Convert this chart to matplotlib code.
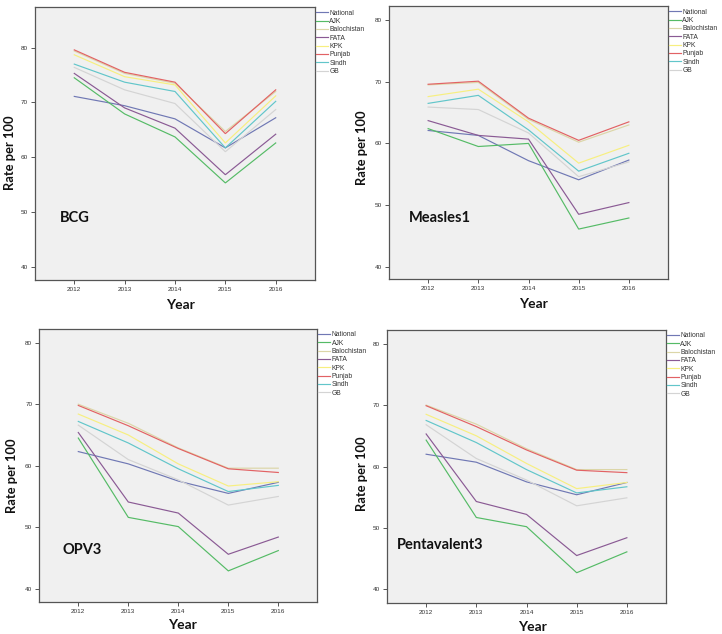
import matplotlib
matplotlib.use("Agg")
import matplotlib.pyplot as plt

years = [2012, 2013, 2014, 2015, 2016]
regions = ["National", "AJK", "Balochistan", "FATA", "KPK", "Punjab", "Sindh", "GB"]
colors = ["#7078b4", "#55bb66", "#dcd6a8", "#8a5a94", "#f7ef80", "#e26264", "#62c6ca", "#d4d4d4"]
yticks = [40, 50, 60, 70, 80]

# BCG
bcg_national = [71.1, 69.4, 67.0, 61.7, 67.2]
bcg_ajk = [74.5, 67.9, 63.7, 55.3, 62.6]
bcg_balochistan = [79.4, 75.3, 73.5, 64.7, 72.0]
bcg_fata = [75.3, 69.0, 65.3, 56.8, 64.2]
bcg_kpk = [78.7, 74.7, 73.2, 62.6, 71.2]
bcg_punjab = [79.6, 75.5, 73.7, 64.3, 72.3]
bcg_sindh = [77.0, 73.7, 72.0, 61.7, 70.2]
bcg_gb = [76.4, 72.3, 69.8, 61.0, 68.7]

# Measles1
mea_national = [62.1, 61.3, 57.2, 54.1, 57.3]
mea_ajk = [62.4, 59.5, 60.0, 46.1, 47.9]
mea_balochistan = [69.5, 69.9, 63.9, 60.2, 63.0]
mea_fata = [63.7, 61.3, 60.7, 48.5, 50.4]
mea_kpk = [67.6, 68.8, 63.5, 56.8, 59.7]
mea_punjab = [69.6, 70.1, 64.1, 60.5, 63.5]
mea_sindh = [66.5, 67.8, 62.2, 55.5, 58.4]
mea_gb = [65.9, 65.5, 61.7, 54.6, 57.0]

# OPV3
opv_national = [62.3, 60.3, 57.5, 55.5, 57.3]
opv_ajk = [64.5, 51.6, 50.1, 42.9, 46.2]
opv_balochistan = [70.0, 66.9, 62.9, 59.6, 59.6]
opv_fata = [65.4, 54.1, 52.3, 45.6, 48.4]
opv_kpk = [68.4, 65.0, 60.3, 56.7, 57.4]
opv_punjab = [69.8, 66.5, 62.8, 59.5, 58.9]
opv_sindh = [67.2, 63.7, 59.5, 55.8, 56.8]
opv_gb = [66.6, 61.0, 57.7, 53.6, 55.0]

# Pentavalent3
pen_national = [62.0, 60.7, 57.5, 55.4, 57.4]
pen_ajk = [64.3, 51.7, 50.2, 42.7, 46.1]
pen_balochistan = [70.0, 66.9, 62.9, 59.5, 59.5]
pen_fata = [65.3, 54.3, 52.2, 45.5, 48.4]
pen_kpk = [68.5, 65.0, 60.5, 56.4, 57.4]
pen_punjab = [69.9, 66.5, 62.7, 59.4, 59.0]
pen_sindh = [67.5, 63.9, 59.5, 55.7, 56.7]
pen_gb = [66.8, 61.3, 57.8, 53.6, 54.9]

vaccines = ["BCG", "Measles1", "OPV3", "Pentavalent3"]
series = [
    [bcg_national, bcg_ajk, bcg_balochistan, bcg_fata, bcg_kpk, bcg_punjab, bcg_sindh, bcg_gb],
    [mea_national, mea_ajk, mea_balochistan, mea_fata, mea_kpk, mea_punjab, mea_sindh, mea_gb],
    [opv_national, opv_ajk, opv_balochistan, opv_fata, opv_kpk, opv_punjab, opv_sindh, opv_gb],
    [pen_national, pen_ajk, pen_balochistan, pen_fata, pen_kpk, pen_punjab, pen_sindh, pen_gb],
]

W, H = 722, 634
fig = plt.figure(figsize=(W / 100, H / 100), dpi=100)
fig.patch.set_facecolor("white")


def pos(l, t, r, b):
    return [l / W, 1 - b / H, (r - l) / W, (b - t) / H]


layout = [
    dict(rect=pos(35, 7, 315, 280), ylim=(37.57, 87.43), ann=(0.089, 0.227),
         ylab=(10, 153), xlab=(180, 305)),
    dict(rect=pos(389, 6, 668, 279), ylim=(38.0, 82.3), ann=(0.072, 0.223),
         ylab=(362, 148), xlab=(533, 304)),
    dict(rect=pos(39.3, 328.7, 317.3, 602), ylim=(37.84, 82.28), ann=(0.085, 0.189),
         ylab=(12, 476), xlab=(182, 625)),
    dict(rect=pos(387, 329.7, 666, 602.7), ylim=(37.82, 82.28), ann=(0.036, 0.21),
         ylab=(362, 474), xlab=(532, 627)),
]

label_font = "Lato"
tick_font = "Liberation Sans"

for name, data, lay in zip(vaccines, series, layout):
    ax = fig.add_axes(lay["rect"])
    ax.set_facecolor("#f0f0f0")
    for reg, vals, col in zip(regions, data, colors):
        ax.plot(years, vals, color=col, lw=0.85, label=reg, solid_joinstyle="miter")
    ax.set_xlim(2011.22, 2016.78)
    ax.set_ylim(*lay["ylim"])
    ax.set_xticks(years)
    ax.set_xticklabels([str(y) for y in years], fontfamily=tick_font, fontsize=4.6, color="#333333")
    ax.set_yticks(yticks)
    ax.set_yticklabels([str(v) for v in yticks], fontfamily=tick_font, fontsize=4.6, color="#333333")
    ax.tick_params(axis="both", length=3, width=0.7, color="#555555", pad=2)
    for sp in ax.spines.values():
        sp.set_color("#555555")
        sp.set_linewidth(0.9)
    ax.text(lay["ann"][0], lay["ann"][1], name, transform=ax.transAxes,
            fontfamily=label_font, fontweight="bold", fontsize=10.5, ha="left", va="center",
            color="#111111")
    leg = ax.legend(loc="upper left", bbox_to_anchor=(1.0, 0.993), frameon=False,
                    prop={"family": tick_font, "size": 4.9}, handlelength=1.75,
                    handletextpad=0.25, labelspacing=0.2, borderpad=0.0, borderaxespad=0.1)
    for t in leg.get_texts():
        t.set_color("#333333")
    fig.text(lay["ylab"][0] / W, 1 - lay["ylab"][1] / H, "Rate per 100", rotation=90,
             ha="center", va="center", fontfamily=label_font, fontweight="bold",
             fontsize=9.3, color="#111111")
    fig.text(lay["xlab"][0] / W, 1 - lay["xlab"][1] / H, "Year", ha="center", va="center",
             fontfamily=label_font, fontweight="bold", fontsize=10, color="#111111")

fig.savefig("out.png", dpi=100, facecolor="white")
